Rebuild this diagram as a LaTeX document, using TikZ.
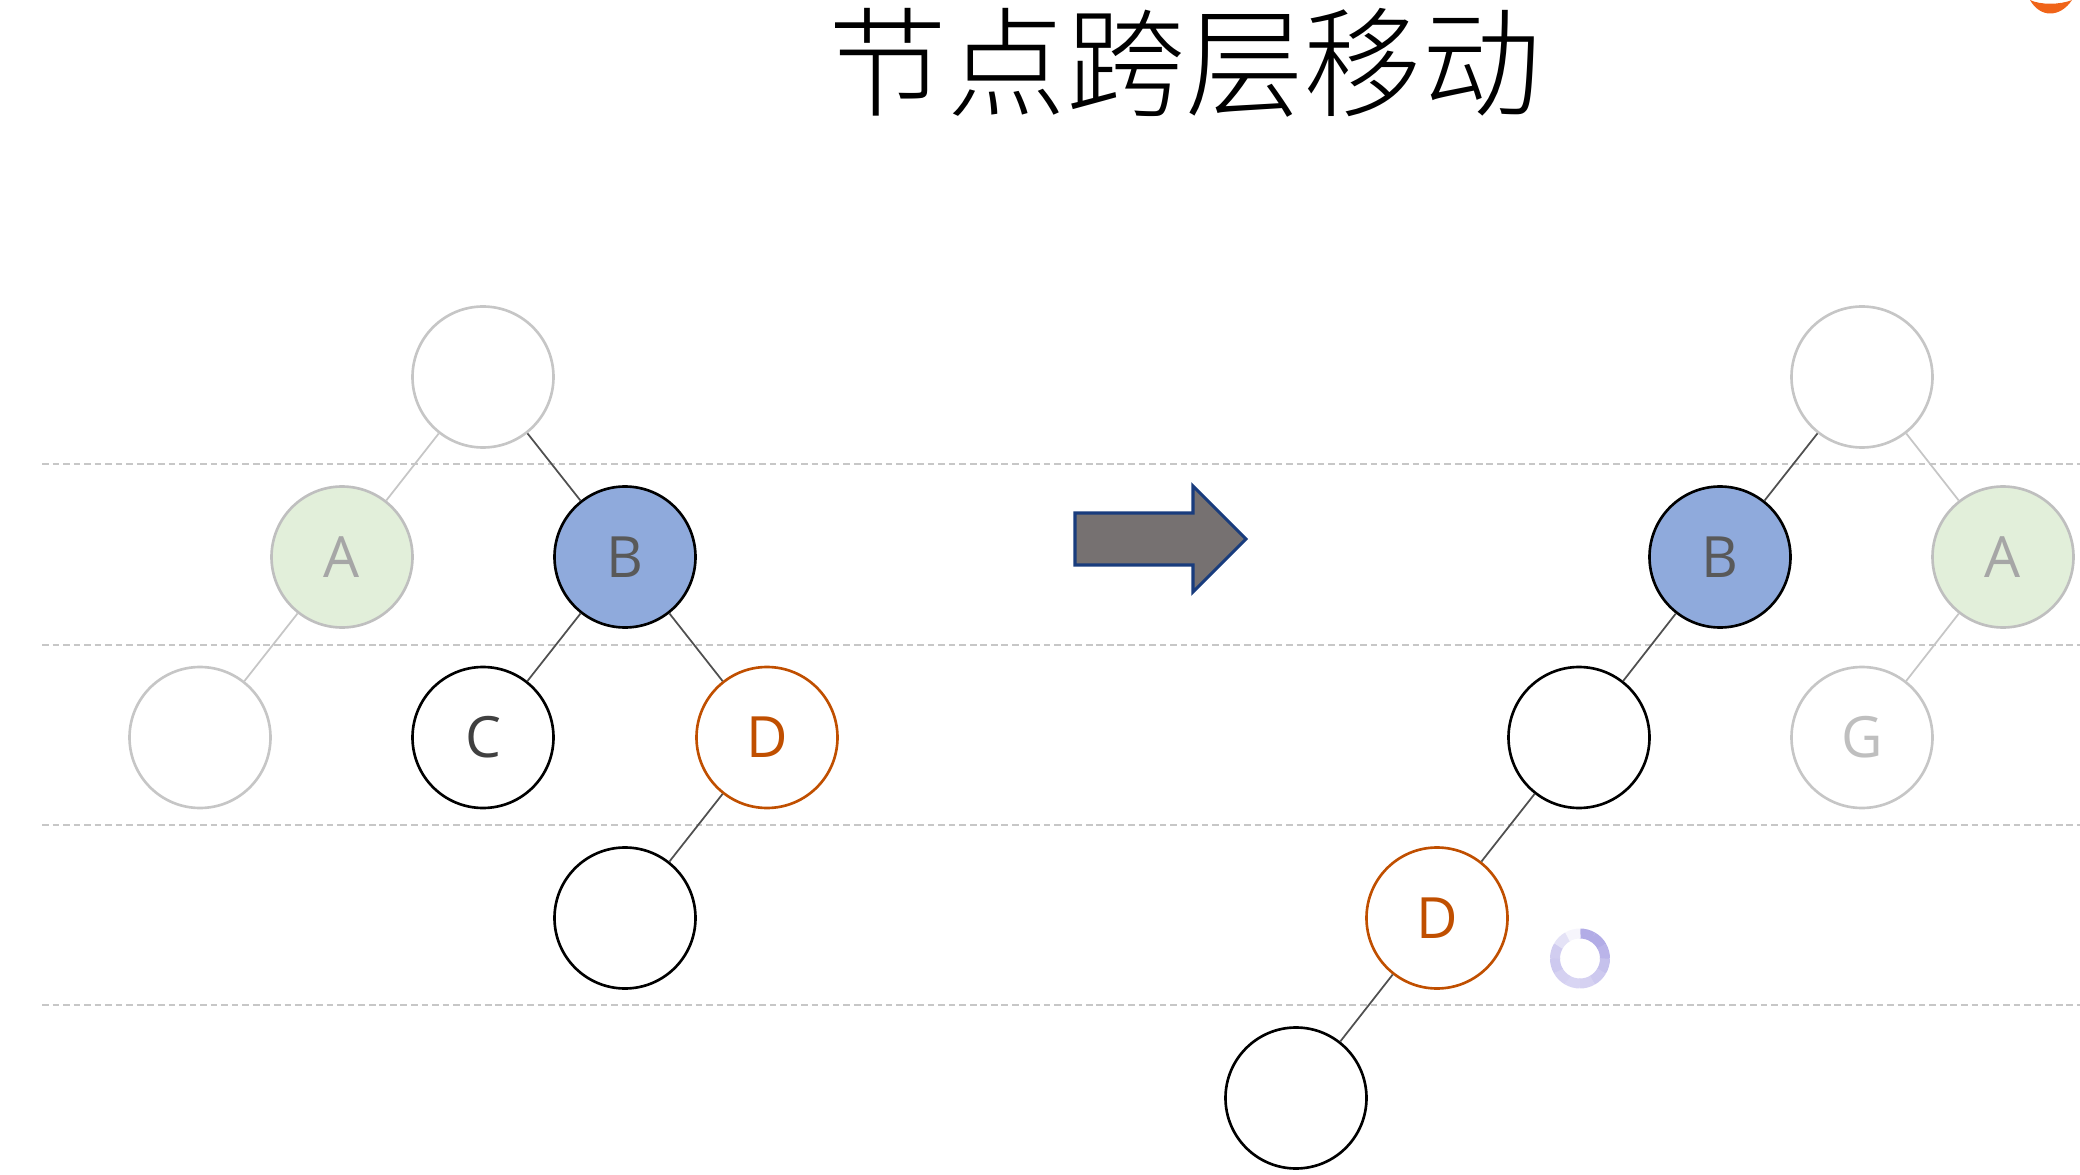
\documentclass[tikz,border=0pt]{standalone}
\usepackage{fontspec}
\usepackage{xcolor}
\setmainfont{Open Sans}
\newfontfamily\cjk{Noto Sans CJK SC Light}

\definecolor{palegray}{HTML}{C6C6C6}
\definecolor{edgegray}{HTML}{505050}
\definecolor{dorange}{HTML}{C04F00}
\definecolor{gnode}{HTML}{E2EFDA}
\definecolor{bnode}{HTML}{8FAADC}
\definecolor{arrowgray}{HTML}{767171}
\definecolor{arrowblue}{HTML}{193C7D}
\definecolor{spindark}{HTML}{B2ACE6}
\definecolor{cornermark}{HTML}{F06419}

\begin{document}
\begin{tikzpicture}[
  vertex/.style={circle,draw,line width=0.75pt,minimum size=1.41cm,inner sep=0pt,font=\fontsize{16.2pt}{18pt}\selectfont,text=black!75},
  pvertex/.style={vertex,draw=palegray,text=black!25},
  avertex/.style={vertex,draw=black!25,fill=gnode,text=black!35},
  bvertex/.style={vertex,fill=bnode,text=black!65},
  dvertex/.style={vertex,draw=dorange,text=dorange},
  pedge/.style={palegray,line width=0.5pt},
  dedge/.style={edgegray,line width=0.5pt},
  levelline/.style={black!22,line width=0.5pt,dash pattern=on 1.9pt off 1.1pt}
]
  \useasboundingbox (0,0) rectangle (20.80,-11.75);

  \node[font=\cjk\fontsize{33.8pt}{36pt}\selectfont] (title) at (11.85,-0.63) {节点跨层移动};

  % level lines
  \foreach \y/\n in {4.64/a,6.45/b,8.25/c,10.05/d} {
    \coordinate (s\n) at (0.42,-\y);
    \coordinate (e\n) at (20.80,-\y);
    \draw[levelline] (s\n) -- (e\n);
  }

  % left tree
  \node[pvertex] (l0) at (4.83,-3.77) {};
  \node[avertex] (lA) at (3.42,-5.57) {A};
  \node[bvertex] (lB) at (6.25,-5.57) {B};
  \node[pvertex] (l1) at (2.00,-7.375) {};
  \node[vertex] (lC) at (4.83,-7.375) {C};
  \node[dvertex] (lD) at (7.67,-7.375) {D};
  \node[vertex] (l2) at (6.25,-9.18) {};
  \draw[pedge] (l0) -- (lA);
  \draw[dedge] (l0) -- (lB);
  \draw[pedge] (lA) -- (l1);
  \draw[dedge] (lB) -- (lC);
  \draw[dedge] (lB) -- (lD);
  \draw[dedge] (lD) -- (l2);

  % right tree
  \node[pvertex] (r0) at (18.62,-3.77) {};
  \node[bvertex] (rB) at (17.20,-5.57) {B};
  \node[avertex] (rA) at (20.03,-5.57) {A};
  \node[vertex] (r1) at (15.79,-7.375) {};
  \node[pvertex] (rG) at (18.62,-7.375) {G};
  \node[dvertex] (rD) at (14.37,-9.18) {D};
  \node[vertex] (r2) at (12.96,-10.98) {};
  \draw[dedge] (r0) -- (rB);
  \draw[pedge] (r0) -- (rA);
  \draw[dedge] (rB) -- (r1);
  \draw[pedge] (rA) -- (rG);
  \draw[dedge] (r1) -- (rD);
  \draw[dedge] (rD) -- (r2);

  % arrow
  \draw[fill=arrowgray,draw=arrowblue,line width=0.9pt]
    (10.75,-5.13) -- (11.93,-5.13) -- (11.93,-4.86) -- (12.46,-5.39)
    -- (11.93,-5.92) -- (11.93,-5.65) -- (10.75,-5.65) -- cycle;

  % spinner
  \foreach \a/\s in {90/100,60/100,30/90,0/75,-30/65,-60/55,-90/50,-120/55,-150/65,-180/60,-210/35,-240/12} {
    \draw[spindark!\s!white,line width=0.10cm] (15.80,-9.585) ++(\a:0.25) arc (\a:\a-31:0.25);
  }

  % corner mark
  \fill[cornermark] (20.30,0) .. controls (20.40,-0.18) and (20.60,-0.18) .. (20.72,0)
    .. controls (20.60,-0.05) and (20.40,-0.05) .. (20.30,0);
\end{tikzpicture}
\end{document}
